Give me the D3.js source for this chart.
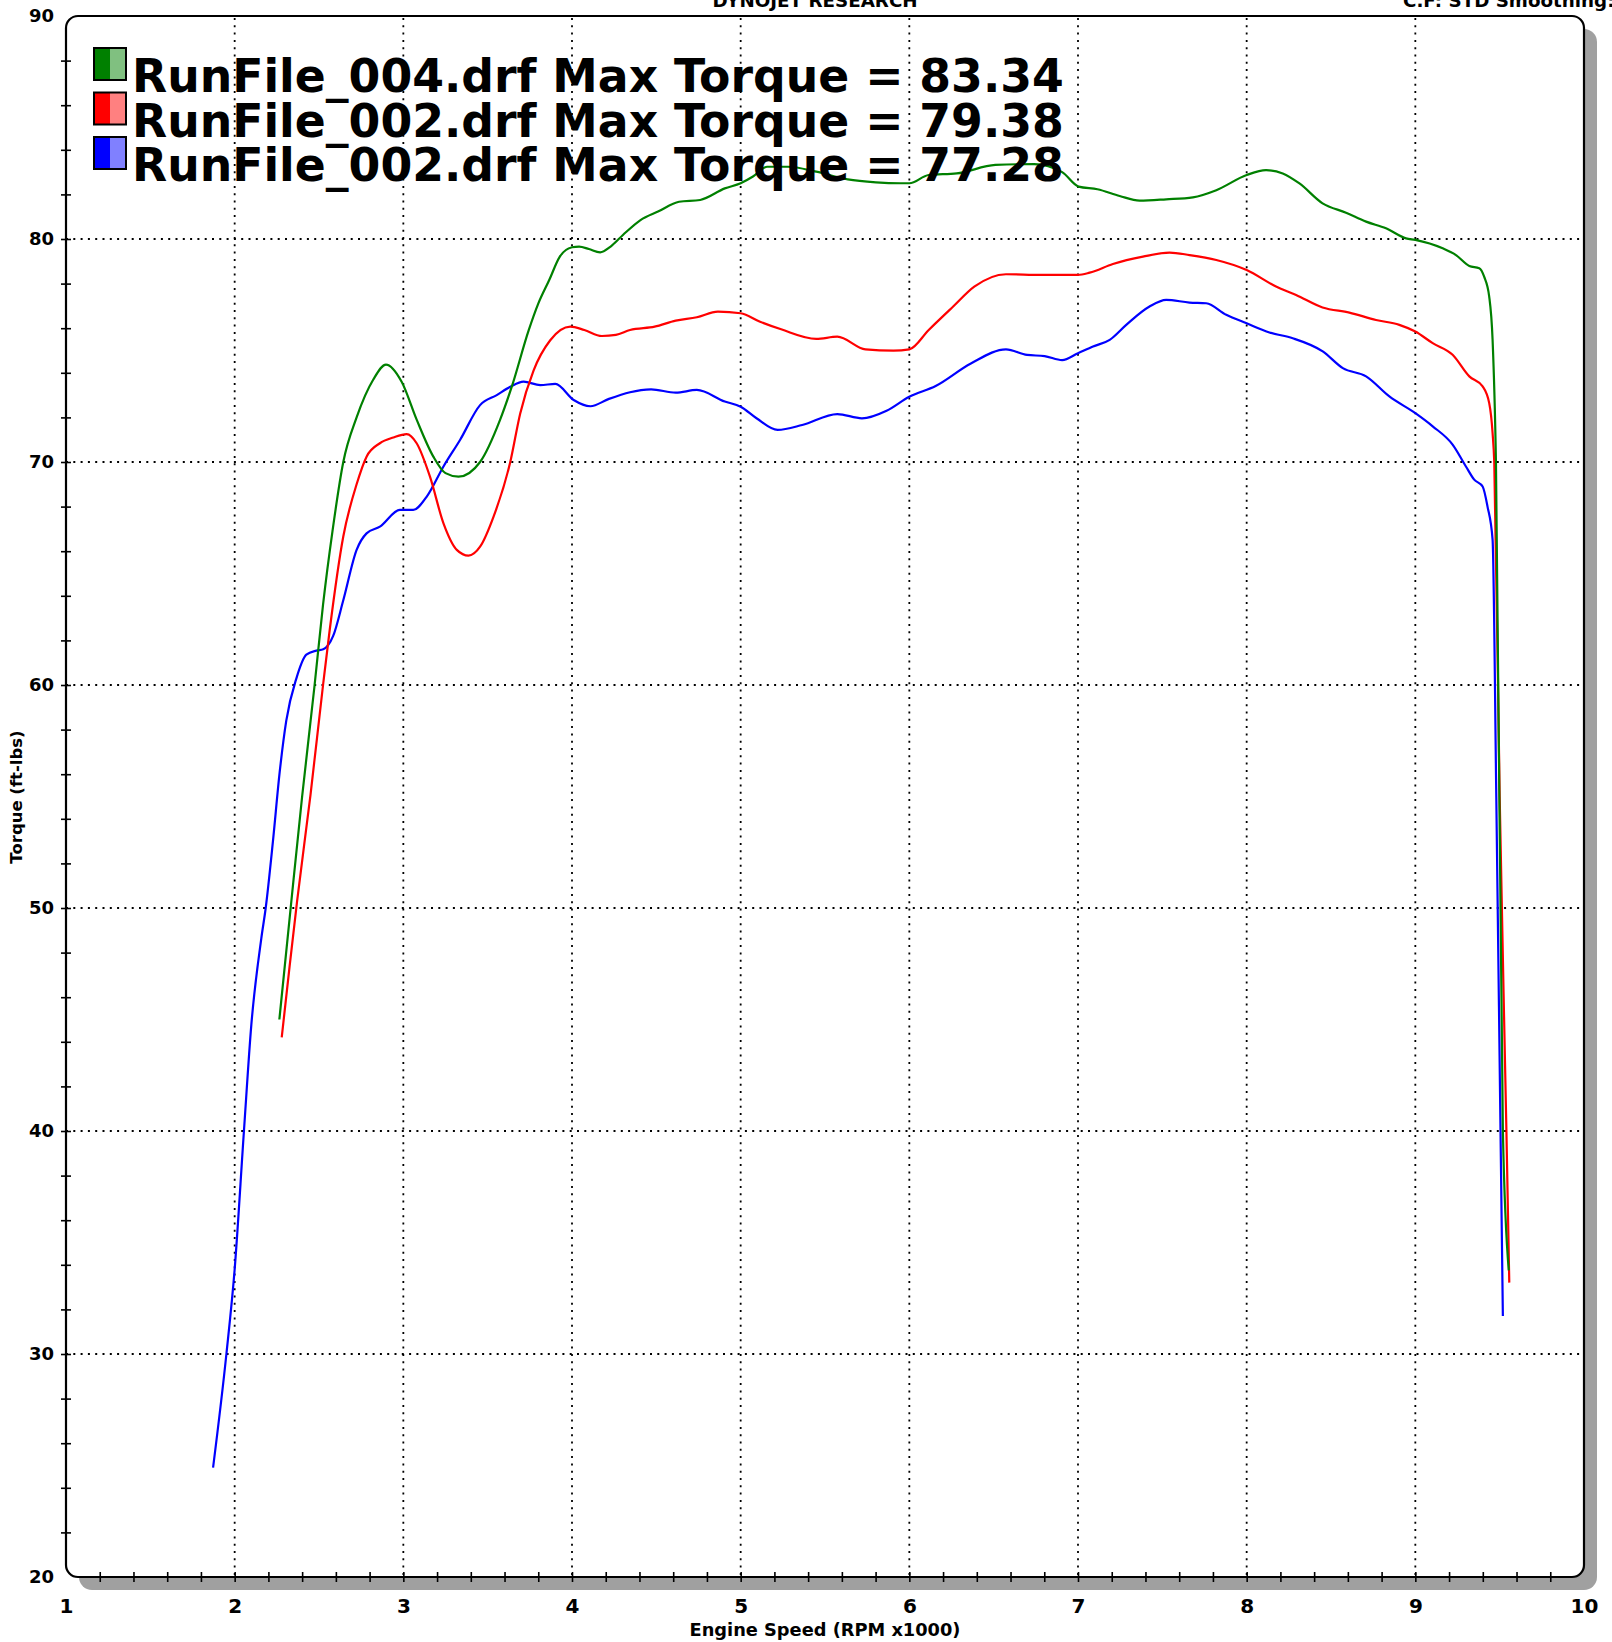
<!DOCTYPE html>
<html>
<head>
<meta charset="utf-8">
<script src="https://cdn.jsdelivr.net/npm/d3@7/dist/d3.min.js"></script>
<style>
  body { margin: 0; background: #fff; }
  text { font-family: "DejaVu Sans", Verdana, sans-serif; font-weight: bold; }
</style>
</head>
<body>
<div id="chart"></div>
<script>
    var width = 1612,
        height = 1642;

    // RunFile_004.drf (green)
    var run004Rpm = [2.265, 2.332, 2.40, 2.474, 2.524, 2.58, 2.644, 2.723, 2.822, 2.897, 2.99, 3.079, 3.178, 3.25, 3.327, 3.455, 3.574, 3.644, 3.743, 3.8, 3.865, 3.927, 4.0, 4.042, 4.1, 4.167, 4.229, 4.302, 4.406, 4.51, 4.635, 4.76, 4.906, 5.0, 5.073, 5.156, 5.281, 5.448, 5.635, 5.802, 5.948, 6.0, 6.115, 6.281, 6.51, 6.74, 6.906, 7.004, 7.115, 7.247, 7.365, 7.523, 7.681, 7.82, 8.0, 8.115, 8.214, 8.313, 8.45, 8.589, 8.708, 8.826, 8.945, 9.0, 9.162, 9.241, 9.32, 9.379, 9.408, 9.438, 9.458, 9.478, 9.519, 9.554];
    var run004Tq = [45.0, 50.0, 55.0, 60.0, 63.6, 66.9, 70.0, 72.0, 73.7, 74.37, 73.6, 71.9, 70.24, 69.5, 69.34, 70.0, 71.9, 73.4, 75.9, 77.1, 78.16, 79.2, 79.63, 79.66, 79.55, 79.4, 79.66, 80.18, 80.85, 81.23, 81.67, 81.75, 82.27, 82.5, 82.8, 83.24, 83.24, 83.02, 82.67, 82.54, 82.5, 82.5, 82.87, 82.94, 83.32, 83.36, 83.0, 82.35, 82.23, 81.93, 81.72, 81.78, 81.87, 82.19, 82.87, 83.09, 82.94, 82.49, 81.6, 81.18, 80.78, 80.48, 80.03, 79.96, 79.58, 79.28, 78.79, 78.69, 78.31, 77.42, 75.48, 70.0, 40.0, 33.75];

    // RunFile_002.drf (red)
    var run002aRpm = [2.279, 2.326, 2.37, 2.45, 2.524, 2.564, 2.644, 2.723, 2.782, 2.861, 2.941, 3.02, 3.079, 3.158, 3.238, 3.317, 3.386, 3.455, 3.535, 3.634, 3.693, 3.772, 3.871, 3.99, 4.073, 4.177, 4.26, 4.344, 4.49, 4.615, 4.74, 4.865, 5.0, 5.115, 5.24, 5.448, 5.573, 5.74, 5.906, 6.0, 6.115, 6.26, 6.385, 6.573, 6.781, 7.0, 7.069, 7.207, 7.385, 7.543, 7.661, 7.82, 8.0, 8.174, 8.293, 8.45, 8.609, 8.767, 8.905, 9.0, 9.103, 9.221, 9.32, 9.399, 9.438, 9.458, 9.468, 9.5, 9.54, 9.557];
    var run002aTq = [44.2, 47.4, 50.3, 55.1, 60.0, 62.5, 66.66, 69.0, 70.24, 70.84, 71.1, 71.25, 70.84, 69.34, 67.25, 66.06, 65.8, 66.2, 67.55, 70.0, 72.18, 74.1, 75.46, 76.07, 75.92, 75.65, 75.7, 75.92, 76.07, 76.34, 76.49, 76.74, 76.67, 76.29, 75.95, 75.52, 75.62, 75.05, 74.99, 75.05, 75.92, 76.97, 77.86, 78.42, 78.39, 78.39, 78.49, 78.88, 79.21, 79.39, 79.28, 79.06, 78.61, 77.87, 77.49, 76.93, 76.7, 76.37, 76.15, 75.85, 75.33, 74.81, 73.84, 73.39, 72.64, 71.3, 70.0, 55.0, 40.0, 33.2];

    // RunFile_002.drf (blue)
    var run002bRpm = [1.872, 1.951, 2.0, 2.055, 2.099, 2.158, 2.184, 2.227, 2.267, 2.306, 2.366, 2.425, 2.484, 2.525, 2.584, 2.644, 2.723, 2.782, 2.861, 2.98, 3.059, 3.139, 3.238, 3.337, 3.455, 3.554, 3.634, 3.713, 3.812, 3.901, 4.01, 4.109, 4.219, 4.469, 4.615, 4.74, 4.906, 5.0, 5.094, 5.219, 5.365, 5.573, 5.719, 5.865, 6.0, 6.156, 6.365, 6.573, 6.698, 6.802, 6.906, 7.0, 7.089, 7.188, 7.286, 7.424, 7.523, 7.661, 7.76, 7.879, 8.0, 8.135, 8.273, 8.451, 8.57, 8.708, 8.846, 9.0, 9.103, 9.221, 9.3, 9.349, 9.399, 9.428, 9.458, 9.48, 9.505, 9.519];
    var run002bTq = [24.9, 30.0, 33.8, 40.0, 44.78, 48.64, 50.0, 53.0, 56.1, 58.4, 60.3, 61.36, 61.54, 61.6, 62.2, 63.8, 66.06, 66.8, 67.1, 67.85, 67.85, 68.45, 69.8, 71.0, 72.55, 73.0, 73.37, 73.6, 73.45, 73.5, 72.78, 72.5, 72.83, 73.26, 73.11, 73.23, 72.71, 72.48, 71.96, 71.44, 71.66, 72.15, 71.96, 72.3, 72.93, 73.41, 74.42, 75.05, 74.8, 74.75, 74.57, 74.88, 75.18, 75.48, 76.15, 76.97, 77.27, 77.15, 77.12, 76.6, 76.22, 75.81, 75.55, 74.96, 74.21, 73.84, 72.94, 72.19, 71.6, 70.78, 69.8, 69.21, 68.9, 68.0, 66.52, 55.0, 40.0, 31.7];

    var legendLabels = ['RunFile_004.drf Max Torque = 83.34', 'RunFile_002.drf Max Torque = 79.38', 'RunFile_002.drf Max Torque = 77.28'];
    var lineColors = ['#008000', '#ff0000', '#0000ff'];
    var lightColors = ['#80c080', '#ff8080', '#8080ff'];

    var xTickLabels = [1, 2, 3, 4, 5, 6, 7, 8, 9, 10];
    var yTickLabels = [20, 30, 40, 50, 60, 70, 80, 90];

    var series = [
        {rpm: run004Rpm, tq: run004Tq},
        {rpm: run002aRpm, tq: run002aTq},
        {rpm: run002bRpm, tq: run002bTq}
    ];

    var svg = d3.select('#chart').append('svg')
        .attr('width', width)
        .attr('height', height);

    var x = d3.scaleLinear().domain([1, 10]).range([66, 1584]);
    var y = d3.scaleLinear().domain([20, 90]).range([1577, 16]);

    var pw = x(10) - x(1), ph = y(20) - y(90);

    // shadow + frame
    svg.append('rect')
        .attr('x', x(1) + 13).attr('y', y(90) + 13)
        .attr('width', pw).attr('height', ph)
        .attr('rx', 13)
        .attr('fill', '#a0a0a0');
    svg.append('rect')
        .attr('x', x(1)).attr('y', y(90))
        .attr('width', pw).attr('height', ph)
        .attr('rx', 12)
        .attr('fill', '#fff');

    // dotted grid
    svg.append('g').selectAll('line')
        .data(xTickLabels.slice(1, -1))
        .enter().append('line')
        .attr('x1', function(d){ return x(d); }).attr('x2', function(d){ return x(d); })
        .attr('y1', y(90) + 2).attr('y2', y(20))
        .attr('stroke', '#000').attr('stroke-width', 1.8)
        .attr('stroke-dasharray', '2 5.3');
    svg.append('g').selectAll('line')
        .data(yTickLabels.slice(1, -1))
        .enter().append('line')
        .attr('y1', function(d){ return y(d); }).attr('y2', function(d){ return y(d); })
        .attr('x1', x(1)).attr('x2', x(10) - 2)
        .attr('stroke', '#000').attr('stroke-width', 1.8)
        .attr('stroke-dasharray', '2 5.3');

    // curves
    var line = d3.line()
        .x(function(d){ return x(d[0]); })
        .y(function(d){ return y(d[1]); })
        .curve(d3.curveMonotoneX);

    series.slice().reverse().forEach(function(s, i){
        var col = lineColors[series.length - 1 - i];
        svg.append('path')
            .datum(d3.zip(s.rpm, s.tq))
            .attr('d', line)
            .attr('fill', 'none')
            .attr('stroke', col)
            .attr('stroke-width', 2.2);
    });

    // frame outline on top
    svg.append('rect')
        .attr('x', x(1)).attr('y', y(90))
        .attr('width', pw).attr('height', ph)
        .attr('rx', 12)
        .attr('fill', 'none')
        .attr('stroke', '#000').attr('stroke-width', 2.2);

    // minor ticks crossing the axes
    var xMinor = svg.append('g')
        .attr('transform', 'translate(0,' + y(20) + ')')
        .call(d3.axisBottom(x).tickValues(d3.range(6, 50).map(function(d){ return d / 5; })).tickSize(10).tickFormat(''));
    xMinor.select('.domain').remove();
    xMinor.selectAll('.tick line').attr('y1', -5).attr('y2', 5).attr('stroke-width', 1.6);

    var yMinor = svg.append('g')
        .attr('transform', 'translate(' + x(1) + ',0)')
        .call(d3.axisLeft(y).tickValues(d3.range(11, 45).map(function(d){ return d * 2; })).tickSize(10).tickFormat(''));
    yMinor.select('.domain').remove();
    yMinor.selectAll('.tick line').attr('x1', 5).attr('x2', -5).attr('stroke-width', 1.6);

    // tick labels
    var xAxis = svg.append('g')
        .attr('transform', 'translate(0,' + y(20) + ')')
        .call(d3.axisBottom(x).tickValues(xTickLabels).tickSize(0).tickPadding(22).tickFormat(d3.format('d')));
    xAxis.select('.domain').remove();
    xAxis.selectAll('text').attr('font-size', 20).attr('font-family', '"DejaVu Sans", sans-serif').attr('font-weight', 'bold').attr('fill', '#000');

    var yAxis = svg.append('g')
        .attr('transform', 'translate(' + x(1) + ',0)')
        .call(d3.axisLeft(y).tickValues(yTickLabels).tickSize(0).tickPadding(12).tickFormat(d3.format('d')));
    yAxis.select('.domain').remove();
    yAxis.selectAll('text').attr('font-size', 18).attr('font-family', '"DejaVu Sans", sans-serif').attr('font-weight', 'bold').attr('fill', '#000');

    // titles
    svg.append('text')
        .attr('x', 825).attr('y', 1636)
        .attr('text-anchor', 'middle')
        .attr('font-size', 17.8)
        .text('Engine Speed (RPM x1000)');

    svg.append('text')
        .attr('transform', 'translate(22,797) rotate(-90)')
        .attr('text-anchor', 'middle')
        .attr('font-size', 16.5)
        .text('Torque (ft-lbs)');

    svg.append('text')
        .attr('x', 815).attr('y', 7)
        .attr('text-anchor', 'middle')
        .attr('font-size', 18.3)
        .text('DYNOJET RESEARCH');

    svg.append('text')
        .attr('x', 1403).attr('y', 7)
        .attr('font-size', 18.3)
        .text('C.F: STD  Smoothing: 5');

    // legend
    var legend = svg.append('g').selectAll('g')
        .data(legendLabels)
        .enter().append('g')
        .attr('transform', function(d, i){ return 'translate(94,' + (48 + i * 44.5) + ')'; });

    legend.append('rect')
        .attr('width', 16).attr('height', 32)
        .attr('fill', function(d, i){ return lineColors[i]; });
    legend.append('rect')
        .attr('x', 16).attr('width', 16).attr('height', 32)
        .attr('fill', function(d, i){ return lightColors[i]; });
    legend.append('rect')
        .attr('width', 32).attr('height', 32)
        .attr('fill', 'none')
        .attr('stroke', '#000').attr('stroke-width', 2);

    legend.append('text')
        .attr('x', 38).attr('y', 44)
        .attr('font-size', 45.7)
        .attr('fill', '#000')
        .text(function(d){ return d; });
</script>
</body>
</html>
